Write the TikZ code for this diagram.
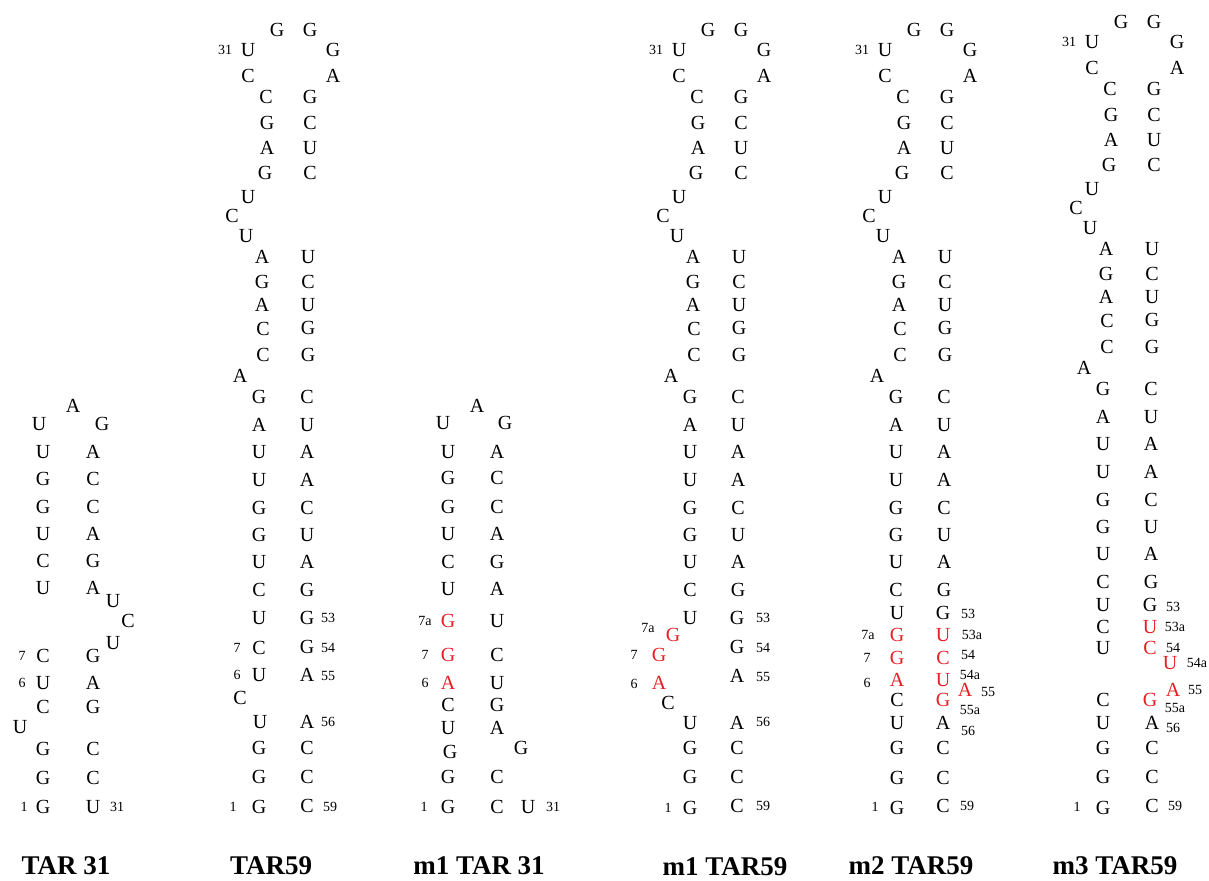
\documentclass[tikz,border=0pt]{standalone}
\usepackage{fontspec}
\setmainfont{Liberation Serif}
\definecolor{mutred}{RGB}{232,30,36}
\tikzset{
    nuc/.style = {inner sep=0pt, font=\fontsize{10}{12}\selectfont},
    mut/.style = {nuc, text=mutred},
    posnum/.style = {inner sep=0pt, font=\fontsize{7}{8}\selectfont},
    tarname/.style = {inner sep=0pt, font=\fontsize{13.5}{16}\selectfont\bfseries}
}
% upper part shared by the TAR59 forms, drawn at TAR59 place
\newcommand{\tarstem}[1]{%
    \node[posnum] (#1n31) at (225,50) {31};
    \foreach \x/\y/\t [count=\i] in {277/30/G, 310/30/G, 248/50/U, 333/50/G, 248/76/C, 333/76/A,
        266/97/C, 310/97/G, 267/123/G, 310/123/C, 267/148/A, 310/148/U, 265/173/G, 310/173/C,
        248/197/U, 232/216/C, 246/236/U,
        262/257/A, 308/257/U, 262/282/G, 308/282/C, 262/305/A, 308/305/U, 263/329/C, 308/328/G, 263/355/C, 308/355/G,
        240/376/A,
        259/397/G, 307/397/C, 259/425/A, 307/425/U, 259/452/U, 307/452/A, 259/480/U, 307/480/A,
        259/508/G, 307/508/C, 259/535/G, 307/535/U, 259/562/U, 307/562/A, 259/590/C, 307/590/G}
        \node[nuc] (#1s\i) at (\x,\y) {\t};
}

\begin{document}
\begin{tikzpicture}[x=0.5pt, y=-0.5pt]
    \useasboundingbox (0,0) rectangle (1209,880);

    % TAR 31
    \foreach \y/\l/\r [count=\i] in {452/U/A, 479/G/C, 507/G/C, 534/U/A, 561/C/G, 588/U/A,
        656/C/G, 683/U/A, 707/C/G, 749/G/C, 778/G/C, 807/G/U}
        {\node[nuc] (t31l\i) at (43,\y) {\l}; \node[nuc] (t31r\i) at (93,\y) {\r};}
    \foreach \x/\y/\t [count=\i] in {73/406/A, 39/424/U, 102/424/G, 113/601/U, 128/621/C, 113/643/U, 20/727/U}
        \node[nuc] (t31x\i) at (\x,\y) {\t};
    \foreach \x/\y/\t [count=\i] in {22/656/7, 22/683/6, 24/807/1, 117/807/31}
        \node[posnum] (t31n\i) at (\x,\y) {\t};

    % TAR59
    \tarstem{t59}
    \foreach \x/\y/\t [count=\i] in {259/618/U, 307/618/G, 259/648/C, 307/647/G, 259/675/U, 307/675/A, 240/698/C,
        260/722/U, 307/722/A, 259/748/G, 307/748/C, 259/777/G, 307/777/C, 259/807/G, 307/806/C}
        \node[nuc] (t59x\i) at (\x,\y) {\t};
    \foreach \x/\y/\t [count=\i] in {328/618/53, 237/648/7, 328/648/54, 237/675/6, 328/676/55, 328/722/56, 233/807/1, 330/807/59}
        \node[posnum] (t59n\i) at (\x,\y) {\t};

    % m1 TAR 31
    \foreach \y/\l/\r [count=\i] in {452/U/A, 478/G/C, 507/G/C, 534/U/A, 562/C/G, 589/U/A,
        705/C/G, 728/U/A, 777/G/C, 807/G/C}
        {\node[nuc] (m31l\i) at (448,\y) {\l}; \node[nuc] (m31r\i) at (497,\y) {\r};}
    \foreach \x/\y/\t [count=\i] in {477/406/A, 443/423/U, 505/423/G, 497/621/U, 497/655/C, 497/683/U,
        450/752/G, 521/748/G, 528/807/U}
        \node[nuc] (m31x\i) at (\x,\y) {\t};
    \foreach \x/\y/\t [count=\i] in {448/621/G, 448/655/G, 448/683/A}
        \node[mut] (m31m\i) at (\x,\y) {\t};
    \foreach \x/\y/\t [count=\i] in {425/621/7a, 425/655/7, 425/683/6, 424/807/1, 553/807/31}
        \node[posnum] (m31n\i) at (\x,\y) {\t};

    % m1 TAR59
    \begin{scope}[shift={(431,0)}]
        \tarstem{m1s}
    \end{scope}
    \foreach \x/\y/\t [count=\i] in {690/618/U, 737/618/G, 737/647/G, 737/676/A, 668/703/C, 690/723/U, 737/723/A,
        690/748/G, 737/748/C, 690/777/G, 737/777/C, 690/808/G, 737/806/C}
        \node[nuc] (m1x\i) at (\x,\y) {\t};
    \foreach \x/\y/\t [count=\i] in {673/635/G, 659/655/G, 659/683/A}
        \node[mut] (m1m\i) at (\x,\y) {\t};
    \foreach \x/\y/\t [count=\i] in {763/618/53, 648/628/7a, 763/648/54, 634/655/7, 634/684/6, 763/677/55,
        763/722/56, 668/808/1, 763/806/59}
        \node[posnum] (m1n\i) at (\x,\y) {\t};

    % m2 TAR59
    \begin{scope}[shift={(637,0)}]
        \tarstem{m2s}
    \end{scope}
    \foreach \x/\y/\t [count=\i] in {897/613/U, 943/613/G, 897/700/C, 897/723/U, 943/723/A, 897/748/G, 943/748/C,
        897/778/G, 943/778/C, 897/808/G, 943/806/C}
        \node[nuc] (m2x\i) at (\x,\y) {\t};
    \foreach \x/\y/\t [count=\i] in {897/635/G, 943/635/U, 897/658/G, 943/658/C, 897/680/A, 943/680/U, 965/690/A, 943/700/G}
        \node[mut] (m2m\i) at (\x,\y) {\t};
    \foreach \x/\y/\t [count=\i] in {968/614/53, 868/635/7a, 972/635/53a, 867/658/7, 968/655/54, 867/683/6,
        970/675/54a, 988/692/55, 970/710/55a, 968/731/56, 875/807/1, 967/806/59}
        \node[posnum] (m2n\i) at (\x,\y) {\t};

    % m3 TAR59
    \begin{scope}[shift={(844,-8)}]
        \tarstem{m3s}
    \end{scope}
    \foreach \x/\y/\t [count=\i] in {1103/605/U, 1150/605/G, 1103/627/C, 1103/648/U, 1103/700/C, 1103/723/U, 1152/723/A,
        1103/748/G, 1152/748/C, 1103/777/G, 1152/777/C, 1103/808/G, 1152/806/C}
        \node[nuc] (m3x\i) at (\x,\y) {\t};
    \foreach \x/\y/\t [count=\i] in {1150/627/U, 1150/648/C, 1170/663/U, 1173/690/A, 1150/700/G}
        \node[mut] (m3m\i) at (\x,\y) {\t};
    \foreach \x/\y/\t [count=\i] in {1173/607/53, 1175/627/53a, 1173/648/54, 1197/663/54a, 1195/690/55,
        1175/708/55a, 1173/728/56, 1077/807/1, 1175/806/59}
        \node[posnum] (m3n\i) at (\x,\y) {\t};

    \node[tarname] (c1) at (66,866) {TAR 31};
    \node[tarname] (c2) at (271,866) {TAR59};
    \node[tarname] (c3) at (479,866) {m1 TAR 31};
    \node[tarname] (c4) at (725,867) {m1 TAR59};
    \node[tarname] (c5) at (911,866) {m2 TAR59};
    \node[tarname] (c6) at (1115,866) {m3 TAR59};
\end{tikzpicture}
\end{document}
